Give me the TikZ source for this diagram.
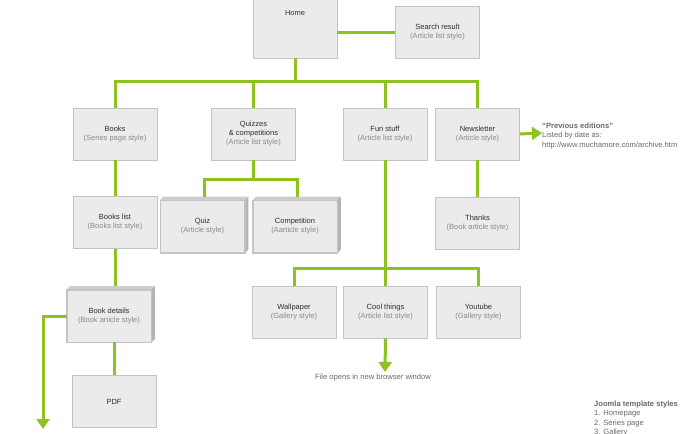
\documentclass[tikz,border=0pt]{standalone}
\usepackage{fontspec}
\setmainfont{Liberation Sans}
\usetikzlibrary{arrows.meta,calc}
\definecolor{lime}{HTML}{8DC21F}
\definecolor{boxfill}{HTML}{EBEBEB}
\definecolor{boxline}{HTML}{C4C4C4}
\definecolor{topface}{HTML}{CDCDCD}
\definecolor{sideface}{HTML}{B4B4B4}
\definecolor{titlecol}{HTML}{2E2E2E}
\definecolor{subcol}{HTML}{8A8A8A}
\definecolor{notecol}{HTML}{6A6A6A}
\newcommand{\sub}[1]{{\color{subcol}#1}}
\newcommand{\deepfaces}[1]{%
  \fill[topface] (#1.north west) -- ++(3.5,-3.5) -- ($(#1.north east)+(3.5,-3.5)$) -- (#1.north east) -- cycle;
  \fill[sideface] (#1.north east) -- ++(3.5,-3.5) -- ($(#1.south east)+(3.5,-3.5)$) -- (#1.south east) -- cycle;
  \draw[boxline, line width=0.8pt] (#1.north west) rectangle (#1.south east);}
\begin{document}
\begin{tikzpicture}[x=1pt,y=-1pt,
  box/.style={draw=boxline, fill=boxfill, line width=0.8pt, minimum width=84pt, minimum height=52pt, inner sep=0pt, align=center, font=\fontsize{7.5}{9}\selectfont, text=titlecol},
  deepbox/.style={box},
  link/.style={draw=lime, line width=3pt},
  tip/.style={link, -{Triangle[width=13pt,length=10pt]}},
  note/.style={font=\fontsize{7.6}{9.2}\selectfont, text=notecol, align=left, inner sep=0pt}
]
\useasboundingbox (0,0) rectangle (700,433);
\fill[white] (0,0) rectangle (700,433);

% boxes
\node[box, minimum height=68pt] (home) at (295,24) {};
\node[font=\fontsize{7.5}{9}\selectfont, text=titlecol] (hometext) at (295,13) {Home};
\node[box] (search) at (437.5,32.5) {Search result\\\sub{(Article list style)}};
\node[box] (books) at (115,134) {Books\\\sub{(Series page style)}};
\node[box] (quizzes) at (253.5,134) {Quizzes\\\& competitions\\\sub{(Article list style)}};
\node[box] (fun) at (385,134) {Fun stuff\\\sub{(Article list style)}};
\node[box] (news) at (477.5,134) {Newsletter\\\sub{(Article style)}};
\node[box] (bookslist) at (115,222.5) {Books list\\\sub{(Books list style)}};
\node[deepbox] (quiz) at (202.5,226.5) {Quiz\\\sub{(Article style)}};
\deepfaces{quiz}
\node[deepbox] (comp) at (295,226.5) {Competition\\\sub{(Aarticle style)}};
\deepfaces{comp}
\node[box] (thanks) at (477.5,223) {Thanks\\\sub{(Book article style)}};
\node[deepbox] (bookdet) at (109,316) {Book details\\\sub{(Book article style)}};
\deepfaces{bookdet}
\node[box] (pdf) at (114,401.5) {PDF};
\node[box] (wall) at (294,312) {Wallpaper\\\sub{(Gallery style)}};
\node[box] (cool) at (385.5,312) {Cool things\\\sub{(Article list style)}};
\node[box] (you) at (478.5,312) {Youtube\\\sub{(Gallery style)}};

% hubs and free ends
\coordinate (hub) at (295,82);
\coordinate (qhub) at (253.5,179);
\coordinate (fhub) at (385,268);
\coordinate (prevtip) at (542,133);
\coordinate (cooltip) at (385,372);
\coordinate (bdtip) at (43,429);

% connectors
\draw[link] (home.east |- search.west) -- (search.west);
\draw[link] (home.south) -- (hub);
\draw[link] (books.north) |- (hub) -| (news.north);
\draw[link] (quizzes.north) -- (quizzes.north |- hub);
\draw[link] (fun.north) -- (fun.north |- hub);
\draw[link] (quizzes.south) -- (qhub);
\draw[link] ($(quiz.north)+(2,-3.5)$) |- (qhub) -| ($(comp.north)+(2,-3.5)$);
\draw[link] (books.south) -- (bookslist.north);
\draw[link] (bookslist.south) -- ($(bookslist.south |- bookdet.north)+(0,-3.5)$);
\draw[link] (pdf.north |- bookdet.south) -- (pdf.north);
\draw[tip] (bookdet.west) -| (bdtip);
\draw[link] (news.south) -- (thanks.north);
\draw[tip] (news.east) -- (prevtip);
\draw[link] (fun.south) -- (fun.south |- cool.north);
\draw[link] (wall.north) |- (fhub) -| (you.north);
\draw[tip] (cool.south) -- (cooltip);

% notes
\node[note, anchor=north west] (prevnote) at (542,123) {\textbf{“Previous editions”}\\Listed by date as:\\http://www.muchamore.com/archive.htm};
\node[note, anchor=north] (filenote) at (373,374) {File opens in new browser window};
\node[note, anchor=north west] (joomla) at (594,401) {\textbf{Joomla template styles}\\1. Homepage\\2. Series page\\3. Gallery};
\end{tikzpicture}
\end{document}
